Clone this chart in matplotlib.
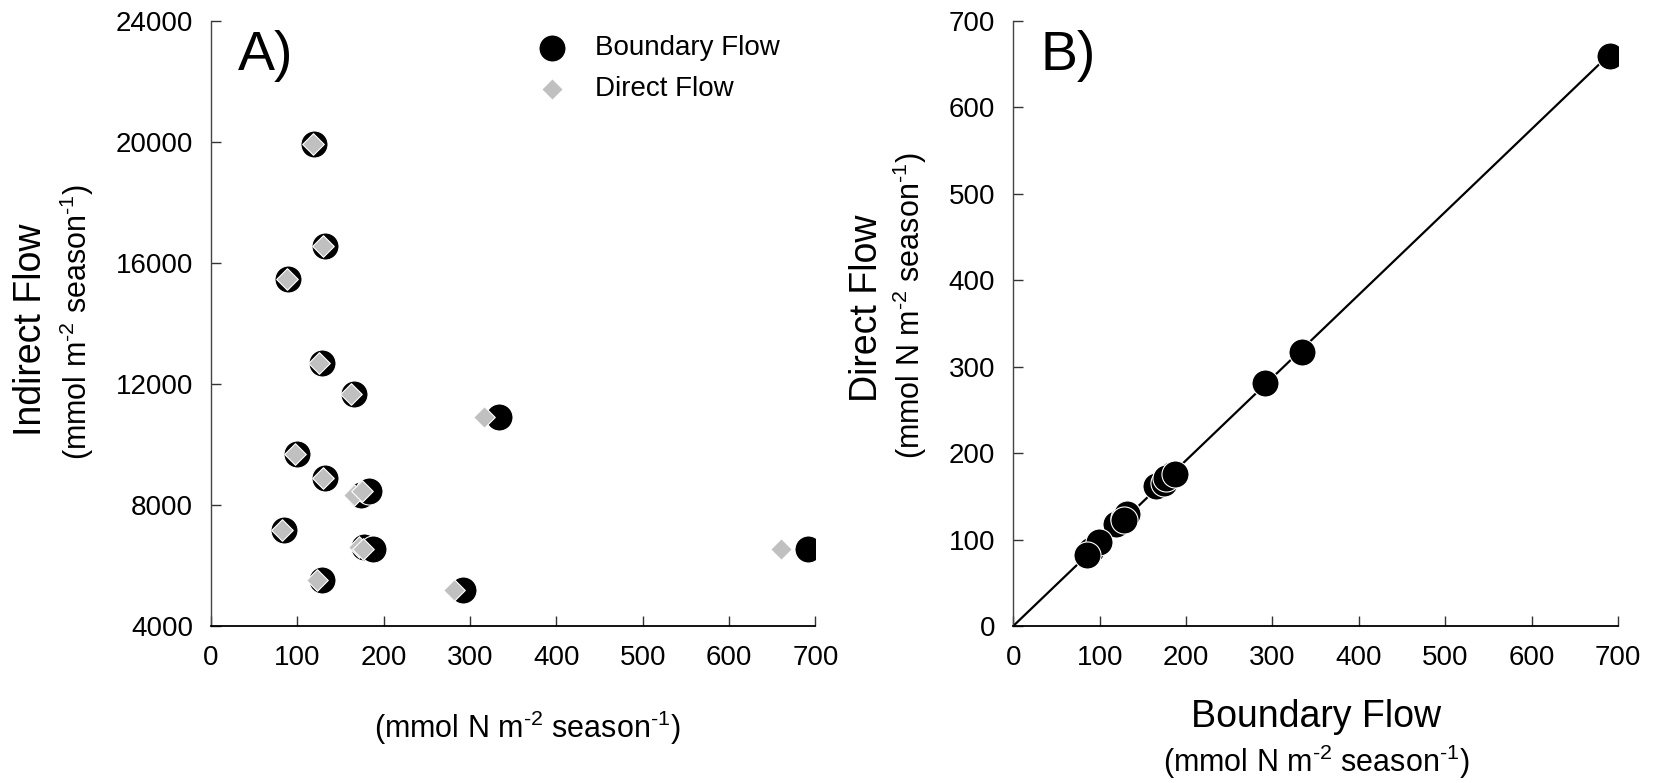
import numpy as np
import matplotlib
matplotlib.use('Agg')
import matplotlib.pyplot as plt

plt.rcParams['font.family'] = ['Liberation Sans', 'DejaVu Sans']
plt.rcParams['mathtext.fontset'] = 'custom'
plt.rcParams['mathtext.rm'] = 'Liberation Sans'
plt.rcParams['mathtext.it'] = 'Liberation Sans:italic'

# boundary flow, direct flow, indirect flow (mmol N m-2 season-1)
boundary = [119, 132, 89.5, 128, 165, 334, 99, 132, 174, 183, 85, 177, 187, 128, 291.5, 691]
direct = [118, 130, 88, 125.5, 162, 316.5, 97, 129.5, 165, 175, 82, 171, 176, 122.5, 281, 660]
indirect = [19950, 16560, 15460, 12680, 11680, 10910, 9690, 8890, 8340, 8460,
            7190, 6600, 6560, 5510, 5190, 6545]

xticks = np.arange(0, 701, 100)
yticks_a = np.arange(4000, 24001, 4000)
unit = r'(mmol N m$^{\text{-2}}$ season$^{\text{-1}}$)'
unit_a = r'(mmol m$^{\text{-2}}$ season$^{\text{-1}}$)'

fig = plt.figure(figsize=(16.54, 7.83), dpi=100)
axA = fig.add_axes([0.1276, 0.2005, 0.3654, 0.7727])
axB = fig.add_axes([0.6126, 0.2005, 0.3656, 0.7727])

for ax in (axA, axB):
    ax.spines['top'].set_visible(False)
    ax.spines['right'].set_visible(False)
    ax.spines['left'].set_color('#444444')
    ax.spines['left'].set_linewidth(1.0)
    ax.spines['bottom'].set_color('black')
    ax.spines['bottom'].set_linewidth(1.3)
    ax.tick_params(direction='in', length=7, width=1, labelsize=20, color='#333333')
    ax.tick_params(axis='x', pad=14)
    ax.tick_params(axis='y', pad=13)
    ax.set_xlim(0, 700)
    ax.set_xticks(xticks)

# panel A
axA.scatter(boundary, indirect, s=19.5**2, c='black', edgecolors='white', linewidths=0.8,
            marker='o', label='Boundary Flow', zorder=3)
axA.scatter(direct, indirect, s=11**2, c='#c0c0c0', edgecolors='white', linewidths=0.8,
            marker='D', label='Direct Flow', zorder=4)
axA.set_ylim(4000, 24000)
axA.set_yticks(yticks_a)
axA.text(0.045, 0.985, 'A)', transform=axA.transAxes, fontsize=40, va='top', ha='left')
axA.legend(loc='upper left', bbox_to_anchor=(0.50, 0.995), frameon=False, fontsize=20,
           handletextpad=0.55, labelspacing=0.55, borderaxespad=0)

# panel B
axB.scatter(boundary, direct, s=19.5**2, c='black', edgecolors='white', linewidths=0.8,
            marker='o', zorder=3)
bx = np.array(boundary)
by = np.array(direct)
slope = np.sum(bx * by) / np.sum(bx * bx)
xs = np.array([0, bx.max()])
axB.plot(xs, slope * xs, color='black', linewidth=1.6, zorder=2)
axB.set_ylim(0, 700)
axB.set_yticks(xticks)
axB.text(0.045, 0.985, 'B)', transform=axB.transAxes, fontsize=40, va='top', ha='left')

# axis labels
fig.text(31 / 1654, 1 - 330 / 783, 'Indirect Flow', rotation=90, fontsize=27, ha='center', va='center')
fig.text(77 / 1654, 1 - 322 / 783, unit_a, rotation=90, fontsize=22, ha='center', va='center')
fig.text(527 / 1654, 1 - 728 / 783, unit, fontsize=22, ha='center', va='center')

fig.text(867 / 1654, 1 - 308 / 783, 'Direct Flow', rotation=90, fontsize=27, ha='center', va='center')
fig.text(910 / 1654, 1 - 306 / 783, unit, rotation=90, fontsize=22, ha='center', va='center')
fig.text(1316 / 1654, 1 - 717 / 783, 'Boundary Flow', fontsize=27, ha='center', va='center')
fig.text(1316 / 1654, 1 - 762 / 783, unit, fontsize=22, ha='center', va='center')

fig.savefig('out.png', dpi=100)
